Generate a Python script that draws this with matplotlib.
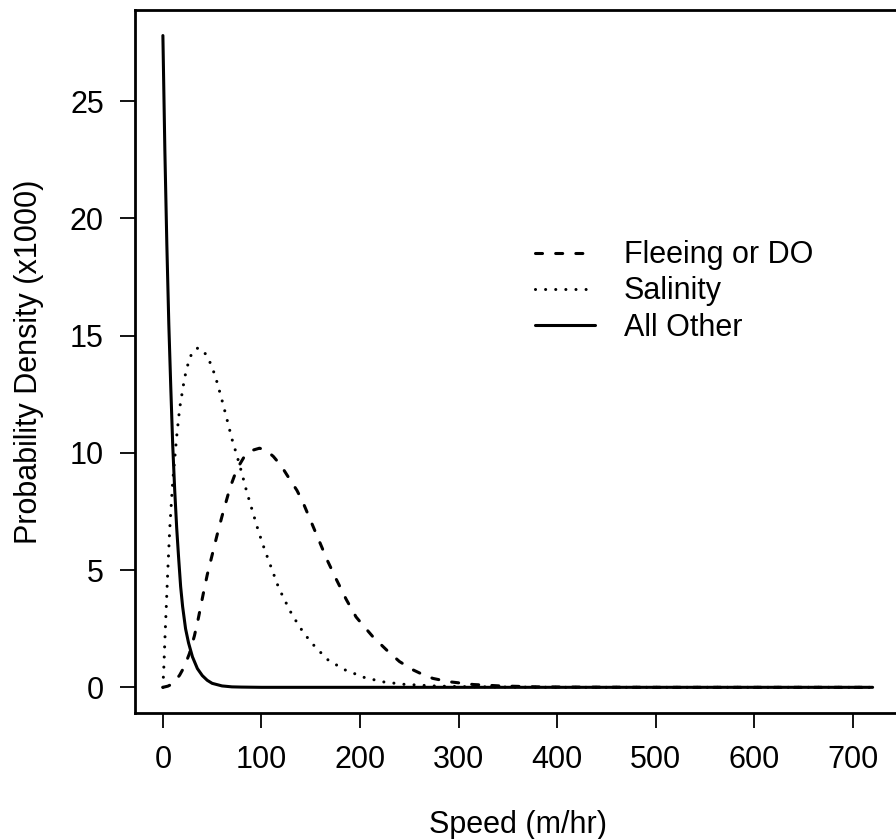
import matplotlib
matplotlib.use("Agg")
import matplotlib.pyplot as plt

plt.rcParams['font.family'] = ['Liberation Sans', 'DejaVu Sans']

# Fleeing or DO (dashed)
flee_x = [0, 5, 10, 17, 22, 27, 32, 36, 41, 45, 50, 55, 60, 68, 75, 82, 90, 98,
          105, 112, 120, 126, 136, 142, 150, 159, 167, 176, 186, 196, 205, 213,
          227, 240, 254, 265, 274, 290, 315, 342, 380, 420, 500, 600, 720]
flee_y = [0, 0.05, 0.15, 0.52, 0.9, 1.45, 2.2, 2.95, 4.0, 4.8, 5.65, 6.5, 7.3, 8.5,
          9.3, 9.8, 10.1, 10.2, 10.1, 9.85, 9.45, 9.05, 8.4, 7.9, 7.1, 6.2, 5.4, 4.6,
          3.75, 3.0, 2.55, 2.16, 1.59, 1.1, 0.74, 0.52, 0.38, 0.24, 0.12, 0.06,
          0.02, 0.01, 0, 0, 0]

# Salinity (dotted)
sal_x = [0, 1, 2, 3, 4, 5, 7, 10, 14, 17, 22, 27, 32, 36, 41, 46, 53, 59, 64, 70,
         75, 80, 85, 91, 97, 103, 110, 117, 122, 131, 140, 147, 155, 168, 185, 205,
         224, 244, 274, 300, 350, 400, 500, 600, 720]
sal_y = [0, 0.9, 2.0, 3.0, 4.0, 5.0, 6.8, 8.8, 10.7, 11.9, 13.2, 14.05, 14.4, 14.48,
         14.35, 14.05, 13.3, 12.4, 11.6, 10.6, 9.9, 9.15, 8.35, 7.5, 6.65, 5.9, 5.1,
         4.3, 3.85, 3.1, 2.5, 2.1, 1.7, 1.15, 0.74, 0.41, 0.23, 0.13, 0.06, 0.03,
         0.01, 0, 0, 0, 0]

# All Other (solid)
other_x = [0, 2, 4, 6, 8, 10, 12, 14, 16, 18, 20, 23, 26, 30, 35, 40, 45, 50, 60,
           70, 80, 100, 150, 200, 300, 400, 500, 600, 720]
other_y = [27.8, 22.9, 18.9, 15.5, 12.8, 10.3, 8.4, 6.8, 5.5, 4.3, 3.45, 2.5, 1.9,
           1.3, 0.8, 0.5, 0.3, 0.17, 0.06, 0.02, 0.01, 0, 0, 0, 0, 0, 0, 0, 0]

series_labels = ["Fleeing or DO", "Salinity", "All Other"]
x_ticks = [0, 100, 200, 300, 400, 500, 600, 700]
y_ticks = [0, 5, 10, 15, 20, 25]

W, H = 896, 839
fig = plt.figure(figsize=(W / 100, H / 100), dpi=100)
L, R, T, B = 134.5, 901.0, 9.5, 713.4
ax = fig.add_axes([L / W, 1 - B / H, (R - L) / W, (B - T) / H])

lw = 2.2
ax.plot(flee_x, flee_y, color='black', lw=lw, linestyle=(0, (2.3, 4.3)),
        dash_capstyle='round', label=series_labels[0])
ax.plot(sal_x, sal_y, color='black', lw=lw, linestyle=(0, (0.01, 3.3)),
        dash_capstyle='round', label=series_labels[1])
ax.plot(other_x, other_y, color='black', lw=lw, solid_capstyle='round',
        label=series_labels[2])

xmax = 720
ymax = 27.8
ax.set_xlim(-0.04 * xmax, 1.04 * xmax)
ax.set_ylim(-0.04 * ymax, 1.04 * ymax)
ax.set_xticks(x_ticks)
ax.set_yticks(y_ticks)
ax.tick_params(axis='both', length=11, width=1.3, labelsize=22, direction='out',
               color='black')
ax.tick_params(axis='x', pad=12)
ax.tick_params(axis='y', pad=11)
for s in ax.spines.values():
    s.set_linewidth(2.0)

ax.set_xlabel("Speed (m/hr)", fontsize=22)
ax.set_ylabel("Probability Density (x1000)", fontsize=22)
ax.xaxis.set_label_coords(0.5, -0.137)
ax.yaxis.set_label_coords(-0.118, 0.5)

leg = ax.legend(loc='upper left', bbox_to_anchor=(0.5226, 0.672), frameon=False,
                fontsize=22, handlelength=1.96, handletextpad=0.95,
                labelspacing=0.2, borderpad=0, borderaxespad=0)

fig.savefig("out.png", dpi=100)
